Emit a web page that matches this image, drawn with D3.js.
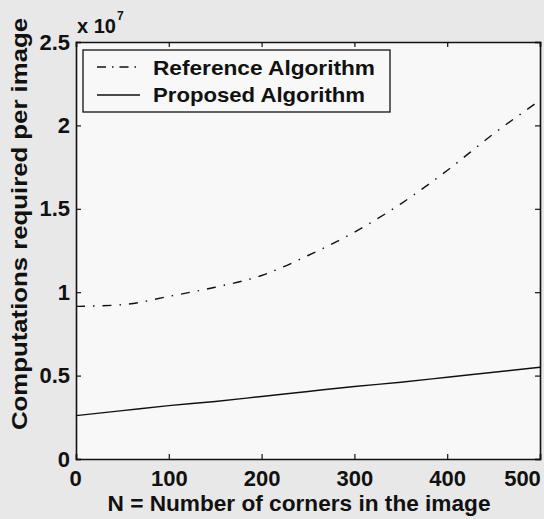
<!DOCTYPE html>
<html><head><meta charset="utf-8">
<script src="https://cdn.jsdelivr.net/npm/d3@7"></script>
<style>body{margin:0;background:#e8e8e8;}svg{display:block;}</style>
</head><body>
<script>
const nValues = [0, 50, 100, 150, 200, 250, 300, 350, 400, 450, 500];
const referenceAlg = [0.915, 0.925, 0.975, 1.03, 1.10, 1.22, 1.36, 1.53, 1.73, 1.95, 2.15];
const proposedAlg = [0.26, 0.29, 0.32, 0.345, 0.375, 0.405, 0.435, 0.46, 0.49, 0.52, 0.55];
const xTicks = [0, 100, 200, 300, 400, 500];
const yTicks = [0, 0.5, 1, 1.5, 2, 2.5];
const yTickLabels = ["0", "0.5", "1", "1.5", "2", "2.5"];
const seriesNames = ["Reference Algorithm", "Proposed Algorithm"];

const W = 544, H = 519;
const m = {left: 76, right: 540, top: 42, bottom: 459};
const svg = d3.select("body").append("svg").attr("width", W).attr("height", H);
svg.append("rect").attr("width", W).attr("height", H).attr("fill", "#e8e8e8");
const x = d3.scaleLinear().domain([0, 500]).range([m.left, m.right]);
const y = d3.scaleLinear().domain([0, 2.5]).range([m.bottom, m.top]);

svg.append("rect").attr("x", m.left).attr("y", m.top)
  .attr("width", m.right - m.left).attr("height", m.bottom - m.top)
  .attr("fill", "#f8f8f8");

const font = "Arial, 'Liberation Sans', sans-serif";
const gB = svg.append("g").attr("transform", `translate(0,${m.bottom})`)
  .call(d3.axisBottom(x).tickValues(xTicks).tickSize(-5).tickPadding(11).tickFormat(d3.format("d")));
const gT = svg.append("g").attr("transform", `translate(0,${m.top})`)
  .call(d3.axisTop(x).tickValues(xTicks).tickSize(-5).tickFormat(""));
const gL = svg.append("g").attr("transform", `translate(${m.left},0)`)
  .call(d3.axisLeft(y).tickValues(yTicks).tickSize(-5).tickPadding(6).tickFormat((d,i)=>yTickLabels[i]));
const gR = svg.append("g").attr("transform", `translate(${m.right},0)`)
  .call(d3.axisRight(y).tickValues(yTicks).tickSize(-5).tickFormat(""));
[gB, gT, gL, gR].forEach(g => {
  g.select(".domain").attr("stroke", "#111").attr("stroke-width", 1.6);
  g.selectAll(".tick line").attr("stroke", "#111").attr("stroke-width", 1.2);
  g.selectAll("text").attr("fill", "#111").style("font-family", font)
    .style("font-size", "22px").style("font-weight", "bold");
});
// last x label sits pulled inside the figure edge, as in the reference
gB.selectAll(".tick").filter(d => d === 500).select("text").attr("dx", -18);
gB.selectAll(".tick").filter(d => d === 0).select("text").attr("dx", -1);

// x 10^7
const exp = svg.append("text").attr("x", 77).attr("y", 33).attr("fill", "#111")
  .style("font-family", font).style("font-size", "20px").style("font-weight", "bold");
exp.append("tspan").text("x 10");
exp.append("tspan").attr("dy", -13).attr("dx", 1).style("font-size", "12px").text("7");

// lines
const line = d3.line().x((d, i) => x(nValues[i])).y(d => y(d)).curve(d3.curveMonotoneX);
const dashRef = "9,8,1.5,8";
svg.append("path").datum(referenceAlg).attr("d", line).attr("fill", "none")
  .attr("stroke", "#111").attr("stroke-width", 1.4).attr("stroke-dasharray", dashRef);
svg.append("path").datum(proposedAlg).attr("d", line).attr("fill", "none")
  .attr("stroke", "#111").attr("stroke-width", 1.4);

// legend
const lg = svg.append("g");
lg.append("rect").attr("x", 83).attr("y", 50).attr("width", 307).attr("height", 62)
  .attr("fill", "#f8f8f8").attr("stroke", "#111").attr("stroke-width", 1.3);
const styles = ["9,6,1.5,6", null];
const baselines = [75, 102];
seriesNames.forEach((name, i) => {
  const yy = 67 + i * 28;
  const l = lg.append("line").attr("x1", 97).attr("x2", 140).attr("y1", yy).attr("y2", yy)
    .attr("stroke", "#111").attr("stroke-width", 1.3);
  if (styles[i]) l.attr("stroke-dasharray", styles[i]);
  lg.append("text").attr("x", 153).attr("y", baselines[i]).text(name).attr("fill", "#111")
    .attr("textLength", i === 0 ? 222 : 212).attr("lengthAdjust", "spacingAndGlyphs")
    .style("font-family", font).style("font-size", "21px").style("font-weight", "bold");
});

// axis labels
svg.append("text").attr("x", 299).attr("y", 511).attr("text-anchor", "middle")
  .attr("textLength", 383).attr("lengthAdjust", "spacingAndGlyphs")
  .attr("fill", "#111").style("font-family", font).style("font-size", "22px").style("font-weight", "bold")
  .text("N = Number of corners in the image");
svg.append("text").attr("transform", "translate(27,224) rotate(-90)").attr("text-anchor", "middle")
  .attr("textLength", 412).attr("lengthAdjust", "spacingAndGlyphs")
  .attr("fill", "#111").style("font-family", font).style("font-size", "22px").style("font-weight", "bold")
  .text("Computations required per image");
</script>
</body></html>
